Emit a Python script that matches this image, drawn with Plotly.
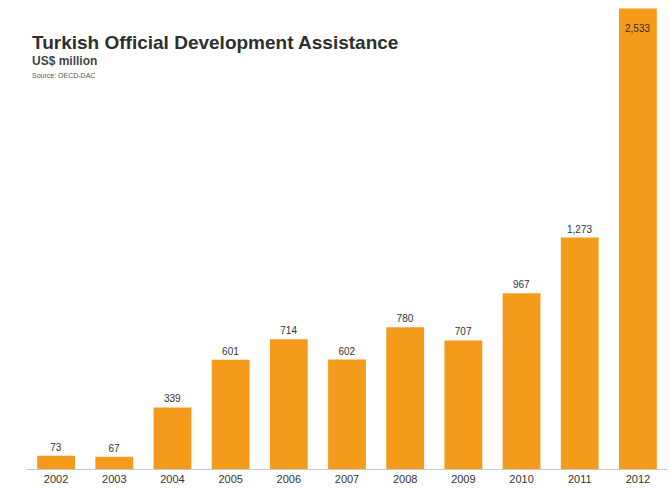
import plotly.graph_objects as go

years = ["2002", "2003", "2004", "2005", "2006", "2007", "2008", "2009", "2010", "2011", "2012"]
values = [73, 67, 339, 601, 714, 602, 780, 707, 967, 1273, 2533]
labels = ["73", "67", "339", "601", "714", "602", "780", "707", "967", "1,273", "2,533"]

title = "Turkish Official Development Assistance"
subtitle = "US$ million"
source = "Source: OECD-DAC"

bar_color = "#F49B1C"
font_fam = "Liberation Sans Narrow, Arial Narrow, Liberation Sans, sans-serif"

# last bar's label is drawn inside the bar (as an annotation tied to its data point)
texts = labels[:-1] + [""]

fig = go.Figure(go.Bar(
    x=years, y=values, text=texts,
    textposition="outside",
    textangle=0,
    cliponaxis=False,
    marker=dict(color=bar_color, line=dict(width=0)),
    textfont=dict(family=font_fam, size=10, color="#333333"),
))

last = len(years) - 1
fig.add_annotation(x=last, y=values[last], xref="x", yref="y", text=labels[last], showarrow=False,
                   yanchor="middle", yshift=-20,
                   font=dict(family=font_fam, size=10, color="#3a2a10"))

W, H = 670, 488
ML, MR, MT, MB = 27, 3, 0, 19

fig.update_layout(
    width=W, height=H,
    margin=dict(l=ML, r=MR, t=MT, b=MB),
    paper_bgcolor="white", plot_bgcolor="white",
    bargap=0.35,
    showlegend=False,
    xaxis=dict(
        type="category", range=[-0.5, 10.5],
        showline=True, linecolor="#c8c8c8", linewidth=1,
        ticks="", showgrid=False,
        tickfont=dict(family=font_fam, size=11, color="#333333"),
    ),
    yaxis=dict(range=[0, 2580], visible=False, showgrid=False, zeroline=False),
)

pw, ph = W - ML - MR, H - MT - MB
def px(x): return (x - ML) / pw
def py(y): return (H - MB - y) / ph

fig.add_annotation(text="<b>" + title + "</b>", x=px(30), y=py(43), xref="paper", yref="paper",
                   xanchor="left", yanchor="middle", showarrow=False,
                   font=dict(family=font_fam, size=19, color="#2e2e2e"))
fig.add_annotation(text="<b>" + subtitle + "</b>", x=px(30), y=py(61), xref="paper", yref="paper",
                   xanchor="left", yanchor="middle", showarrow=False,
                   font=dict(family=font_fam, size=12, color="#444444"))
fig.add_annotation(text=source, x=px(30), y=py(76), xref="paper", yref="paper",
                   xanchor="left", yanchor="middle", showarrow=False,
                   font=dict(family=font_fam, size=7, color="#555555"))

fig.write_html("out.html")
